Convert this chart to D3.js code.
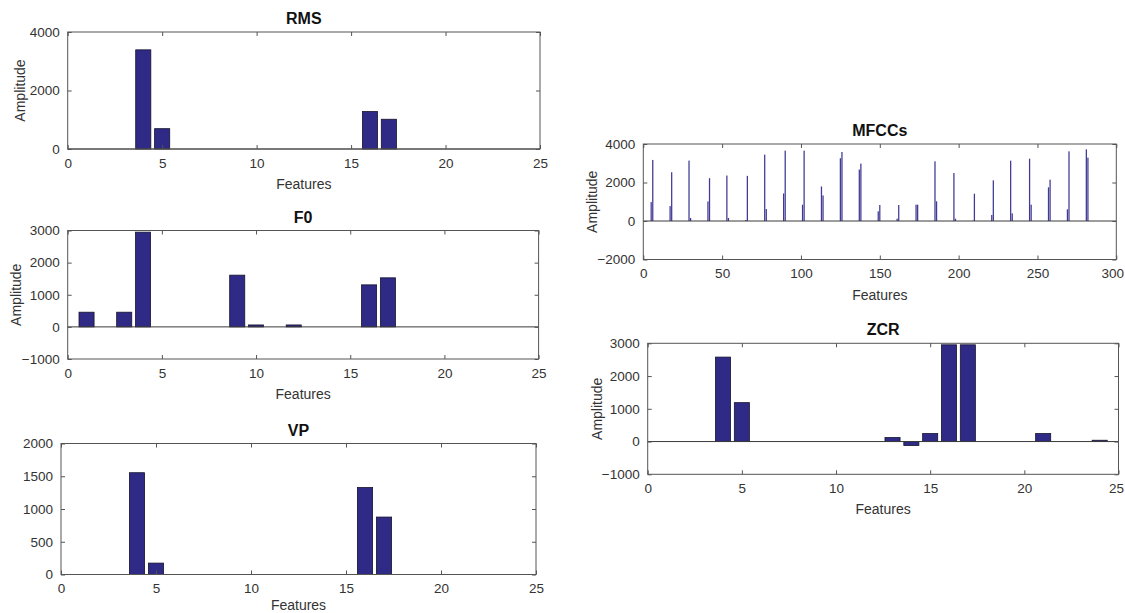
<!DOCTYPE html>
<html>
<head>
<meta charset="utf-8">
<script src="https://cdn.jsdelivr.net/npm/d3@7"></script>
<style>
  html, body { margin: 0; padding: 0; background: #fff; }
  svg { display: block; font-family: "Liberation Sans", Arial, Helvetica, sans-serif; }
</style>
</head>
<body>
<svg id="chart" width="1125" height="613"></svg>
<script>
// ---------------- data ----------------
const features24 = d3.range(1, 25);            // feature numbers 1..24
const rmsValues = [0,0,0,3390,695,0,0,0,0,0,0,0,0,0,0,1280,1017,0,0,0,0,0,0,0];
const f0Values  = [457,0,457,2949,0,0,0,0,1610,60,0,60,0,0,0,1308,1527,0,0,0,0,0,0,0];
const vpValues  = [0,0,0,1554,174,0,0,0,0,0,0,0,0,0,0,1328,877,0,0,0,0,0,0,0];
const zcrValues = [0,0,0,2579,1188,0,0,0,0,0,0,0,122,-122,244,2954,2954,0,0,0,244,0,0,40];

const mfccFeatures = [5,6,17,18,29,30,41,42,53,54,65,66,77,78,89,90,101,102,113,114,125,126,137,138,
                      149,150,161,162,173,174,185,186,197,198,209,210,221,222,233,234,245,246,257,258,269,270,281,282];
const mfccValues   = [983,3172,776,2534,3138,155,1017,2224,2362,155,52,2345,3448,620,1431,3655,845,3655,1793,1328,3259,3586,2672,2983,
                      502,831,121,831,848,848,3100,1022,2494,121,17,1420,312,2113,3134,398,3238,848,1749,2147,606,3619,3723,3290];

const ticks25 = [0,5,10,15,20,25];
const ticks300 = [0,50,100,150,200,250,300];
const rmsYTicks = [0,2000,4000];
const f0YTicks = [-1000,0,1000,2000,3000];
const vpYTicks = [0,500,1000,1500,2000];
const mfccYTicks = [-2000,0,2000,4000];
const zcrYTicks = [-1000,0,1000,2000,3000];

// ---------------- drawing ----------------
const svg = d3.select("#chart");
const BAR = "#2f2a85";
const AX = "#555";
const TXT = "#333";
const W = 1125, H = 613;

function panel(cfg) {
  const x = d3.scaleLinear().domain(cfg.xDomain).range([cfg.left, cfg.right]);
  const y = d3.scaleLinear().domain(cfg.yDomain).range([cfg.bottom, cfg.top]);
  const g = svg.append("g");
  const unit = x(1) - x(0);
  const bw = Math.max(cfg.barWidth * unit, 1);

  // bars
  g.selectAll("rect.bar").data(cfg.xs.map((f, i) => ({f, v: cfg.vals[i]})).filter(d => d.v !== 0))
    .join("rect")
    .attr("x", d => x(d.f) - bw / 2)
    .attr("width", bw)
    .attr("y", d => y(Math.max(0, d.v)))
    .attr("height", d => Math.abs(y(d.v) - y(0)))
    .attr("fill", cfg.thin ? "#403a94" : BAR)
    .attr("stroke", cfg.thin ? "none" : "#15132e")
    .attr("stroke-width", 0.8);

  // baseline
  g.append("line")
    .attr("x1", cfg.left).attr("x2", cfg.right)
    .attr("y1", y(0)).attr("y2", y(0))
    .attr("stroke", "#3a3a3a").attr("stroke-width", 1);

  // axes (bottom, left) + mirrored (top, right) ticks inward
  const tl = 4;
  const bottom = d3.axisBottom(x).tickValues(cfg.xTicks).tickSize(-tl).tickPadding(tl + 5).tickFormat(d3.format("d"));
  const top = d3.axisTop(x).tickValues(cfg.xTicks).tickSize(-tl).tickFormat("");
  const left = d3.axisLeft(y).tickValues(cfg.yTicks).tickSize(-tl).tickPadding(tl + 4).tickFormat(d3.format("d"));
  const right = d3.axisRight(y).tickValues(cfg.yTicks).tickSize(-tl).tickFormat("");

  const style = sel => {
    sel.select(".domain").remove();
    sel.selectAll("line").attr("stroke", AX);
    sel.selectAll("text").attr("fill", TXT).style("font-size", "13.5px")
      .style("font-family", "'Liberation Sans', Arial, sans-serif");
  };
  const gb = g.append("g").attr("transform", `translate(0,${cfg.bottom})`).call(bottom).call(style);
  // keep an edge label inside the page
  gb.selectAll(".tick text").each(function () {
    const bb = this.getBBox();
    const tr = this.parentNode.getAttribute("transform");
    const tx = +tr.match(/translate\(([-\d.]+)/)[1];
    if (tx + bb.width / 2 > W - 1) d3.select(this).attr("dx", (W - 1) - (tx + bb.width / 2));
  });
  g.append("g").attr("transform", `translate(0,${cfg.top})`).call(top).call(style);
  g.append("g").attr("transform", `translate(${cfg.left},0)`).call(left).call(style);
  g.append("g").attr("transform", `translate(${cfg.right},0)`).call(right).call(style);

  // box
  g.append("rect")
    .attr("x", cfg.left).attr("y", cfg.top)
    .attr("width", cfg.right - cfg.left).attr("height", cfg.bottom - cfg.top)
    .attr("fill", "none").attr("stroke", AX).attr("stroke-width", 1);

  // title
  g.append("text")
    .attr("x", (cfg.left + cfg.right) / 2).attr("y", cfg.top - 8)
    .attr("text-anchor", "middle")
    .style("font-weight", "bold").style("font-size", "16px").attr("fill", "#111")
    .text(cfg.title);

  // x label
  g.append("text")
    .attr("x", (cfg.left + cfg.right) / 2).attr("y", Math.min(cfg.bottom + 40, H - 3))
    .attr("text-anchor", "middle").style("font-size", "14px").attr("fill", TXT)
    .text("Features");

  // y label
  if (cfg.ylabel) {
    g.append("text")
      .attr("transform", `translate(${cfg.ylabelX},${(cfg.top + cfg.bottom) / 2}) rotate(-90)`)
      .attr("text-anchor", "middle").style("font-size", "14px").attr("fill", TXT)
      .text("Amplitude");
  }
}

panel({title: "RMS", left: 67.7, right: 540, top: 32, bottom: 149,
  xDomain: [0,25], yDomain: [0,4000], xTicks: ticks25, yTicks: rmsYTicks,
  xs: features24, vals: rmsValues, barWidth: 0.8, ylabel: true, ylabelX: 25});

panel({title: "F0", left: 67.7, right: 538.6, top: 230.5, bottom: 359,
  xDomain: [0,25], yDomain: [-1000,3000], xTicks: ticks25, yTicks: f0YTicks,
  xs: features24, vals: f0Values, barWidth: 0.8, ylabel: true, ylabelX: 21});

panel({title: "VP", left: 61, right: 536, top: 443.5, bottom: 574.5,
  xDomain: [0,25], yDomain: [0,2000], xTicks: ticks25, yTicks: vpYTicks,
  xs: features24, vals: vpValues, barWidth: 0.8, ylabel: false});

panel({title: "MFCCs", left: 643.3, right: 1116.3, top: 144, bottom: 259.5,
  xDomain: [0,300], yDomain: [-2000,4000], xTicks: ticks300, yTicks: mfccYTicks,
  xs: mfccFeatures, vals: mfccValues, barWidth: 0.8, thin: true, ylabel: true, ylabelX: 597});

panel({title: "ZCR", left: 647.7, right: 1118.5, top: 343.3, bottom: 474.3,
  xDomain: [0,25], yDomain: [-1000,3000], xTicks: ticks25, yTicks: zcrYTicks,
  xs: features24, vals: zcrValues, barWidth: 0.8, ylabel: true, ylabelX: 602});
</script>
</body>
</html>
